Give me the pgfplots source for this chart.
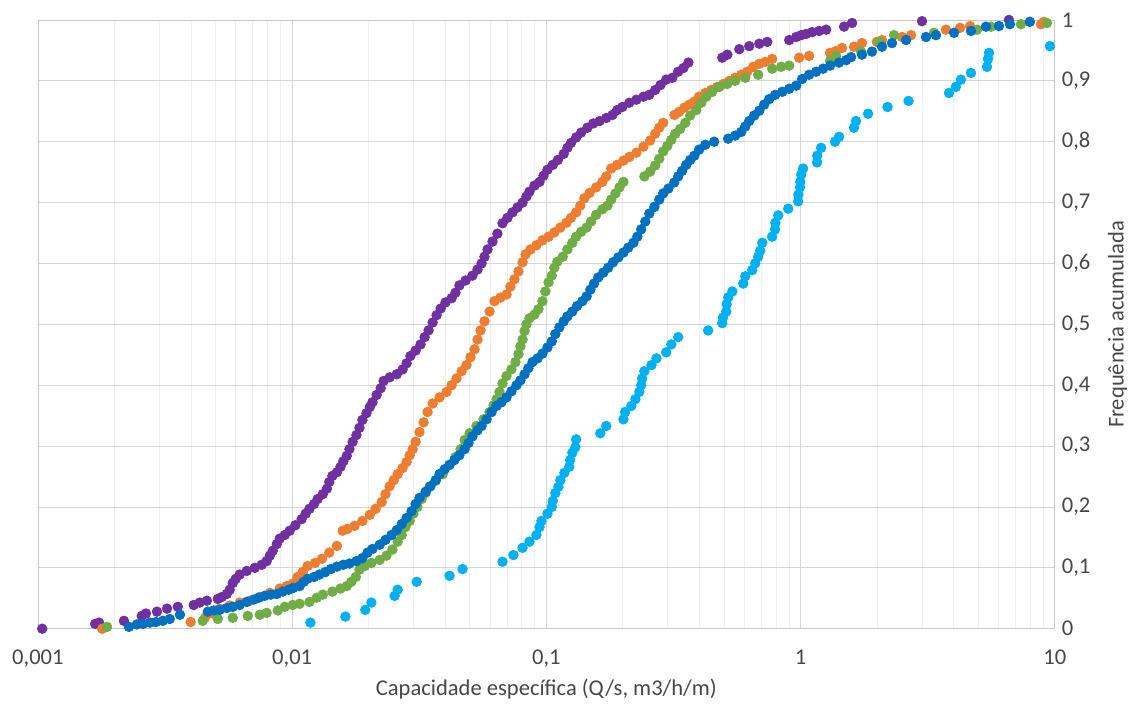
\documentclass[border=0pt]{standalone}
\usepackage{fontspec}
\setmainfont{Carlito}
\usepackage{pgfplots}
\pgfplotsset{compat=1.18}
\definecolor{cpurple}{HTML}{7030A0}
\definecolor{corange}{HTML}{ED7D31}
\definecolor{cgreen}{HTML}{70AD47}
\definecolor{cblue}{HTML}{0070C0}
\definecolor{clight}{HTML}{00B0F0}
\begin{document}
\begin{tikzpicture}
\begin{axis}[
    name=ax,
    scale only axis, width=509.5pt, height=305pt,
    xmode=log, xmin=0.001, xmax=10, ymin=0, ymax=1,
    xtick={0.001,0.01,0.1,1,10},
    xticklabels={{0,001},{0,01},{0,1},1,10},
    minor xtick={0.002,0.003,0.004,0.005,0.006,0.007,0.008,0.009,
                 0.02,0.03,0.04,0.05,0.06,0.07,0.08,0.09,
                 0.2,0.3,0.4,0.5,0.6,0.7,0.8,0.9,
                 2,3,4,5,6,7,8,9},
    ytick={0,0.1,0.2,0.3,0.4,0.5,0.6,0.7,0.8,0.9,1},
    yticklabels={0,{0,1},{0,2},{0,3},{0,4},{0,5},{0,6},{0,7},{0,8},{0,9},1},
    yticklabel pos=right,
    xmajorgrids, xminorgrids, ymajorgrids,
    major grid style={draw=black!16},
    minor grid style={draw=black!6},
    axis line style={draw=black!22},
    major tick length=0pt, minor tick length=0pt,
    tick label style={font=\fontsize{11.3}{13}\selectfont, text=black!72},
    xticklabel style={yshift=-7pt},
    label style={font=\fontsize{11.3}{13}\selectfont, text=black!72},
    xlabel={Capacidade específica (Q/s, m3/h/m)},
    ylabel={Frequência acumulada},
    xlabel style={at={(rel axis cs:0.5,0)}, anchor=center, yshift=-30pt},
    ylabel style={at={(rel axis cs:1,0.5)}, anchor=center, rotate=0, yshift=-31.5pt},
    clip=false,
    every axis plot/.append style={only marks, mark=*, mark size=2.4pt},
]
% purple
\addplot[color=cpurple] table {
0.00104 0
0.00168 0.008
0.00174 0.010
0.00218 0.013
0.00256 0.021
0.00266 0.025
0.00294 0.028
0.00322 0.033
0.00355 0.036
0.00410 0.039
0.00433 0.043
0.00462 0.046
0.00510 0.049
0.00529 0.052
0.00553 0.057
0.00568 0.064
0.00584 0.075
0.00600 0.082
0.00622 0.089
0.00663 0.095
0.00713 0.100
0.00759 0.105
0.00794 0.111
0.00817 0.120
0.00839 0.128
0.00870 0.139
0.00894 0.148
0.00936 0.154
0.00978 0.161
0.0103 0.170
0.0109 0.180
0.0113 0.189
0.0117 0.197
0.0122 0.205
0.0126 0.213
0.0132 0.221
0.0137 0.230
0.0140 0.241
0.0144 0.251
0.0150 0.257
0.0155 0.266
0.0159 0.275
0.0164 0.284
0.0168 0.295
0.0173 0.307
0.0179 0.318
0.0184 0.330
0.0189 0.343
0.0196 0.354
0.0202 0.364
0.0207 0.372
0.0215 0.384
0.0223 0.395
0.0229 0.407
0.0242 0.413
0.0258 0.418
0.0272 0.426
0.0282 0.436
0.0292 0.448
0.0306 0.457
0.0320 0.467
0.0332 0.479
0.0344 0.490
0.0357 0.503
0.0370 0.515
0.0384 0.526
0.0401 0.536
0.0424 0.543
0.0439 0.552
0.0455 0.564
0.0481 0.572
0.0512 0.580
0.0536 0.590
0.0556 0.600
0.0571 0.611
0.0587 0.623
0.0614 0.636
0.0642 0.649
0.0672 0.666
0.0703 0.675
0.0736 0.684
0.0770 0.692
0.0806 0.700
0.0835 0.710
0.0858 0.718
0.0898 0.728
0.0940 0.734
0.0974 0.744
0.101 0.754
0.106 0.762
0.111 0.770
0.117 0.780
0.121 0.790
0.125 0.798
0.131 0.807
0.137 0.815
0.145 0.823
0.153 0.830
0.162 0.834
0.172 0.839
0.182 0.844
0.190 0.852
0.199 0.857
0.212 0.864
0.226 0.869
0.241 0.874
0.254 0.877
0.268 0.885
0.281 0.893
0.296 0.902
0.313 0.905
0.330 0.915
0.346 0.921
0.362 0.930
0.492 0.938
0.515 0.943
0.574 0.952
0.628 0.957
0.688 0.961
0.739 0.964
0.902 0.967
0.961 0.972
1.005 0.975
1.051 0.977
1.110 0.980
1.182 0.982
1.26 0.984
1.483 0.989
1.594 0.995
3.003 0.998
6.60 1
};
% orange
\addplot[color=corange] table {
0.00179 0
0.00399 0.011
0.00454 0.018
0.00487 0.025
0.00519 0.033
0.00568 0.038
0.00622 0.043
0.00681 0.046
0.00746 0.052
0.00817 0.059
0.00894 0.066
0.00952 0.070
0.01005 0.074
0.0105 0.085
0.0110 0.093
0.0115 0.103
0.0123 0.108
0.0131 0.115
0.0140 0.125
0.0150 0.136
0.0158 0.161
0.0165 0.164
0.0176 0.169
0.0189 0.177
0.0202 0.187
0.0213 0.197
0.0225 0.208
0.0233 0.221
0.0242 0.234
0.0251 0.244
0.0260 0.254
0.0272 0.264
0.0282 0.274
0.0290 0.285
0.0298 0.295
0.0306 0.307
0.0317 0.323
0.0329 0.339
0.0341 0.356
0.0357 0.370
0.0380 0.380
0.0405 0.389
0.0424 0.400
0.0443 0.411
0.0464 0.423
0.0485 0.433
0.0503 0.446
0.0522 0.459
0.0536 0.475
0.0551 0.490
0.0571 0.505
0.0598 0.521
0.0625 0.538
0.0660 0.544
0.0697 0.549
0.0722 0.562
0.0749 0.574
0.0777 0.587
0.0806 0.602
0.0829 0.615
0.0866 0.623
0.0914 0.630
0.0965 0.638
0.102 0.644
0.1075 0.651
0.1135 0.659
0.120 0.667
0.125 0.675
0.131 0.684
0.136 0.695
0.141 0.707
0.148 0.716
0.157 0.725
0.166 0.734
0.172 0.743
0.180 0.756
0.190 0.762
0.201 0.769
0.212 0.775
0.226 0.782
0.241 0.792
0.256 0.802
0.268 0.813
0.278 0.823
0.288 0.831
0.319 0.844
0.333 0.849
0.349 0.856
0.365 0.861
0.382 0.866
0.399 0.874
0.422 0.880
0.445 0.885
0.470 0.890
0.497 0.895
0.524 0.900
0.553 0.905
0.584 0.910
0.617 0.915
0.651 0.923
0.688 0.928
0.726 0.931
0.773 0.936
0.987 0.938
1.080 0.941
1.306 0.946
1.379 0.949
1.456 0.954
1.622 0.956
1.744 0.962
1.994 0.964
2.091 0.967
2.506 0.972
2.719 0.975
3.73 0.984
4.237 0.987
4.638 0.990
8.82 0.993
9.06 0.997
};
% green
\addplot[color=cgreen] table {
0.00187 0.003
0.00445 0.013
0.00510 0.016
0.00584 0.018
0.00669 0.021
0.00746 0.023
0.00794 0.026
0.00878 0.030
0.00936 0.036
0.01005 0.039
0.0107 0.041
0.0117 0.044
0.0125 0.051
0.0132 0.056
0.0144 0.061
0.0155 0.066
0.0164 0.070
0.0171 0.077
0.0178 0.085
0.0184 0.097
0.0193 0.103
0.0205 0.108
0.0221 0.113
0.0235 0.120
0.0248 0.130
0.0260 0.143
0.0270 0.154
0.0279 0.167
0.0290 0.177
0.0300 0.189
0.0311 0.200
0.0323 0.213
0.0335 0.223
0.0347 0.233
0.0367 0.243
0.0391 0.254
0.0416 0.269
0.0439 0.282
0.0460 0.295
0.0477 0.310
0.0499 0.321
0.0531 0.333
0.0566 0.344
0.0598 0.356
0.0620 0.367
0.0637 0.377
0.0654 0.389
0.0672 0.403
0.0697 0.415
0.0729 0.426
0.0756 0.438
0.0777 0.451
0.0791 0.464
0.0806 0.475
0.0821 0.489
0.0835 0.500
0.0858 0.510
0.0898 0.516
0.0931 0.525
0.0965 0.538
0.0991 0.554
0.102 0.569
0.105 0.580
0.1075 0.593
0.1105 0.603
0.116 0.611
0.121 0.623
0.1265 0.634
0.131 0.644
0.137 0.652
0.144 0.659
0.150 0.669
0.157 0.680
0.166 0.689
0.174 0.695
0.180 0.705
0.187 0.715
0.194 0.725
0.201 0.734
0.243 0.743
0.256 0.751
0.268 0.761
0.278 0.772
0.288 0.784
0.299 0.793
0.310 0.803
0.3215 0.813
0.336 0.821
0.352 0.831
0.368 0.843
0.389 0.852
0.407 0.864
0.426 0.874
0.449 0.882
0.479 0.890
0.515 0.895
0.553 0.900
0.606 0.905
0.681 0.910
0.773 0.920
0.839 0.923
0.902 0.925
1.306 0.933
1.379 0.941
1.729 0.948
2.034 0.964
2.331 0.975
3.348 0.979
4.943 0.984
5.61 0.989
7.357 0.993
9.31 0.995
};
% blue
\addplot[color=cblue] table {
0.00228 0.003
0.00245 0.007
0.00259 0.008
0.00276 0.010
0.00291 0.011
0.00310 0.013
0.00330 0.016
0.00362 0.023
0.00466 0.028
0.00492 0.030
0.00519 0.031
0.00553 0.034
0.00584 0.036
0.00622 0.039
0.00663 0.044
0.00707 0.048
0.00739 0.051
0.00780 0.054
0.00824 0.056
0.00870 0.057
0.00918 0.061
0.00970 0.064
0.0101 0.067
0.0107 0.070
0.0111 0.077
0.0115 0.082
0.0122 0.085
0.0128 0.089
0.0135 0.093
0.0142 0.098
0.0150 0.102
0.0159 0.105
0.0168 0.107
0.0179 0.111
0.0189 0.116
0.0198 0.125
0.0207 0.131
0.0221 0.138
0.0233 0.146
0.0246 0.154
0.0258 0.162
0.0270 0.172
0.0282 0.182
0.0295 0.193
0.0306 0.205
0.0317 0.215
0.0335 0.225
0.0350 0.234
0.0367 0.244
0.0380 0.254
0.0398 0.262
0.0416 0.269
0.0435 0.277
0.0455 0.285
0.0477 0.295
0.0494 0.305
0.0512 0.316
0.0536 0.326
0.0556 0.333
0.0582 0.344
0.0609 0.356
0.0637 0.366
0.0666 0.372
0.0697 0.380
0.0729 0.390
0.0763 0.400
0.0791 0.408
0.0821 0.418
0.0850 0.428
0.0882 0.438
0.0923 0.444
0.0965 0.452
0.101 0.462
0.105 0.472
0.1085 0.484
0.1125 0.495
0.117 0.505
0.121 0.513
0.1265 0.521
0.132 0.530
0.1385 0.538
0.144 0.546
0.149 0.557
0.154 0.567
0.160 0.577
0.1675 0.585
0.175 0.593
0.183 0.602
0.192 0.610
0.201 0.618
0.210 0.626
0.220 0.634
0.228 0.644
0.236 0.656
0.245 0.669
0.254 0.682
0.266 0.693
0.278 0.705
0.288 0.715
0.302 0.723
0.3185 0.733
0.330 0.743
0.342 0.752
0.355 0.762
0.368 0.770
0.382 0.777
0.399 0.787
0.422 0.795
0.457 0.800
0.519 0.805
0.553 0.810
0.584 0.816
0.606 0.825
0.628 0.834
0.657 0.843
0.688 0.851
0.719 0.861
0.753 0.870
0.794 0.877
0.847 0.882
0.902 0.887
0.961 0.892
1.014 0.903
1.080 0.910
1.151 0.915
1.226 0.920
1.306 0.925
1.417 0.930
1.510 0.934
1.580 0.939
1.744 0.943
1.909 0.948
2.091 0.956
2.288 0.962
2.599 0.967
3.114 0.972
3.409 0.975
4.013 0.979
4.68 0.982
5.36 0.989
6.03 0.990
6.66 0.993
7.98 0.997
};
% light blue
\addplot[color=clight] table {
0.0118 0.010
0.0162 0.020
0.0194 0.031
0.0205 0.043
0.0253 0.054
0.0260 0.064
0.0309 0.077
0.0416 0.087
0.0468 0.098
0.0672 0.110
0.0742 0.121
0.0806 0.133
0.0858 0.143
0.0914 0.154
0.0940 0.167
0.0956 0.177
0.101 0.189
0.105 0.200
0.106 0.210
0.1085 0.223
0.1115 0.233
0.1135 0.244
0.1177 0.256
0.123 0.266
0.124 0.277
0.1265 0.289
0.130 0.298
0.131 0.311
0.163 0.321
0.172 0.333
0.201 0.344
0.204 0.356
0.216 0.366
0.224 0.377
0.232 0.389
0.236 0.400
0.238 0.411
0.243 0.423
0.259 0.433
0.271 0.444
0.296 0.454
0.310 0.467
0.330 0.479
0.433 0.490
0.492 0.502
0.495 0.511
0.510 0.521
0.512 0.533
0.519 0.544
0.539 0.554
0.595 0.567
0.606 0.579
0.645 0.589
0.663 0.600
0.681 0.611
0.694 0.621
0.707 0.634
0.773 0.644
0.794 0.656
0.796 0.667
0.817 0.679
0.894 0.690
0.978 0.702
0.980 0.713
0.995 0.725
0.997 0.734
1.005 0.746
1.023 0.756
1.161 0.766
1.163 0.777
1.204 0.790
1.366 0.800
1.417 0.808
1.622 0.823
1.652 0.834
1.843 0.846
2.198 0.857
2.659 0.867
3.836 0.880
4.08 0.890
4.27 0.902
4.68 0.913
5.41 0.923
5.46 0.936
5.51 0.946
9.56 0.957
};
\end{axis}
\path (ax.south west) ++(-19pt,-37pt) rectangle ++(567pt,352pt);
\end{tikzpicture}
\end{document}
